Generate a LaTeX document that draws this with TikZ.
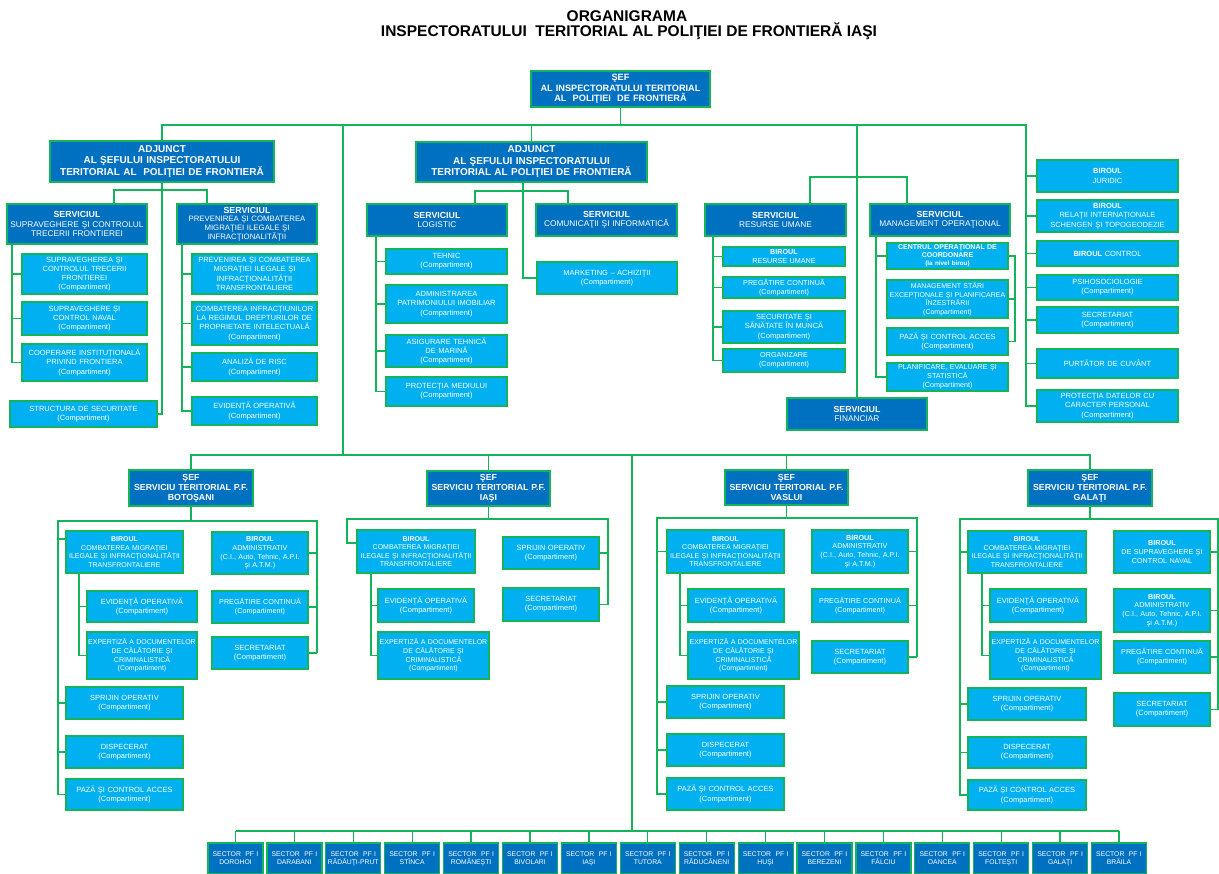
\documentclass[tikz,border=0pt]{standalone}
\usepackage{fontspec}
\setmainfont{Liberation Sans}
\definecolor{dblue}{RGB}{0,112,192}
\definecolor{lblue}{RGB}{0,176,240}
\definecolor{lgreen}{RGB}{20,180,90}
\newcommand\fs[2]{\fontsize{#1}{#2}\selectfont}
\newcommand\Serv{{\bfseries\fs{8.8}{9.6}SERVICIUL}}
\newcommand\Birou{\textbf{BIROUL}}
\newcommand\Cp{(Compartiment)}
\newcommand\CombTxt{\Birou\\COMBATEREA MIGRAŢIEI\\ILEGALE ŞI INFRACŢIONALITĂŢII\\TRANSFRONTALIERE}
\newcommand\ExpTxt{EXPERTIZĂ A DOCUMENTELOR\\DE CĂLĂTORIE ŞI\\CRIMINALISTICĂ\\(Compartiment)}
\newcommand\AdmTxt{\Birou\\ADMINISTRATIV\\(C.I., Auto, Tehnic, A.P.I.\\şi A.T.M.)}
\newcommand\mkbox[7]{%
  \pgfmathsetmacro\mkT{(#5)-(#3)-2}%
  \pgfmathsetmacro\mkH{(#6)-(#4)}%
  \pgfmathsetmacro\mkX{((#3)+(#5))/2}%
  \pgfmathsetmacro\mkY{((#4)+(#6))/2}%
  \node[#1, text width=\mkT pt, minimum height=\mkH pt] (#2) at (\mkX,\mkY) {#7};}
\tikzset{
  boxbase/.style={rectangle, draw=lgreen, line width=1.2pt, text=white, align=center, inner xsep=1pt, inner ysep=0pt},
  dbox/.style={boxbase, fill=dblue},
  lbox/.style={boxbase, fill=lblue, font=\fs{7.5}{9.2}},
  nbox/.style={lbox, font=\fs{7.2}{8.8}},
  hbox/.style={dbox, font=\bfseries\fs{8.8}{10}},
  sbox/.style={dbox, font=\fs{8.3}{9.6}},
  sect/.style={dbox, font=\fs{6.8}{8}},
  conn/.style={draw=lgreen, line width=1.3pt},
}
\begin{document}
\begin{tikzpicture}[x=1pt,y=-1pt]
\useasboundingbox (0,0) rectangle (1219,874);
\fill[white] (0,0) rectangle (1219,874);

% titles
\node[font=\bfseries\fs{15.5}{17}] (title1) at (627,16) {ORGANIGRAMA};
\node[font=\bfseries\fs{15.5}{17}] (title2) at (629,31) {INSPECTORATULUI~~TERITORIAL AL POLIŢIEI DE FRONTIERĂ IAŞI};

% top level
\mkbox{hbox, font=\bfseries\fs{9.2}{10.5}}{top}{531}{71}{710}{107}{ŞEF\\AL INSPECTORATULUI TERITORIAL\\AL~~POLIŢIEI~~DE FRONTIERĂ}
\mkbox{hbox, font=\bfseries\fs{10}{11.5}}{adj1}{50}{141}{274}{182}{ADJUNCT\\AL ŞEFULUI INSPECTORATULUI\\TERITORIAL AL~~POLIŢIEI DE FRONTIERĂ}
\mkbox{hbox, font=\bfseries\fs{10}{11.5}}{adj2}{416}{142}{647}{182}{ADJUNCT\\AL ŞEFULUI INSPECTORATULUI\\TERITORIAL AL POLIŢIEI DE FRONTIERĂ}

% adjunct 1 group
\mkbox{sbox}{sSup}{7}{204}{147}{244}{\Serv\\SUPRAVEGHERE ŞI CONTROLUL\\TRECERII FRONTIEREI}
\mkbox{sbox, font=\fs{7.8}{8.8}}{sPrev}{177}{204}{317}{244}{\Serv\\PREVENIREA ŞI COMBATEREA\\MIGRAŢIEI ILEGALE ŞI\\INFRACŢIONALITĂŢII}
\mkbox{lbox}{cSctf}{22}{254}{147}{294}{SUPRAVEGHEREA ŞI\\CONTROLUL TRECERII\\FRONTIEREI\\\Cp}
\mkbox{lbox}{cScn}{22}{302}{147}{335}{SUPRAVEGHERE ŞI\\CONTROL NAVAL\\\Cp}
\mkbox{lbox}{cCoop}{22}{344}{147}{381}{COOPERARE INSTITUŢIONALĂ\\PRIVIND FRONTIERA\\\Cp}
\mkbox{lbox}{cStruct}{10}{401}{157}{427}{STRUCTURA DE SECURITATE\\\Cp}
\mkbox{lbox}{cPcm}{192}{254}{317}{294}{PREVENIREA ŞI COMBATEREA\\MIGRAŢIEI ILEGALE ŞI\\INFRACŢIONALITĂŢII\\TRANSFRONTALIERE}
\mkbox{lbox}{cCir}{192}{302}{317}{345}{COMBATEREA INFRACŢIUNILOR\\LA REGIMUL DREPTURILOR DE\\PROPRIETATE INTELECTUALĂ\\\Cp}
\mkbox{lbox}{cRisc}{192}{353}{317}{381}{ANALIZĂ DE RISC\\\Cp}
\mkbox{lbox}{cEvid}{192}{397}{317}{425}{EVIDENŢĂ OPERATIVĂ\\\Cp}

% adjunct 2 group
\mkbox{sbox}{sLog}{367}{204}{507}{236}{\Serv\\LOGISTIC}
\mkbox{sbox}{sCom}{536}{204}{677}{236}{\Serv\\COMUNICAŢII ŞI INFORMATICĂ}
\mkbox{lbox}{cTeh}{386}{249}{507}{274}{TEHNIC\\\Cp}
\mkbox{lbox}{cAdm}{386}{285}{507}{323}{ADMINISTRAREA\\PATRIMONIULUI IMOBILIAR\\\Cp}
\mkbox{lbox}{cAsig}{386}{335}{507}{367}{ASIGURARE TEHNICĂ\\DE MARINĂ\\\Cp}
\mkbox{lbox}{cProt}{386}{377}{507}{406}{PROTECŢIA MEDIULUI\\\Cp}
\mkbox{lbox}{cMkt}{537}{262}{677}{294}{MARKETING – ACHIZIŢII\\\Cp}

% RU / MO / financiar
\mkbox{sbox}{sRu}{705}{204}{846}{236}{\Serv\\RESURSE UMANE}
\mkbox{sbox}{sMo}{870}{204}{1010}{236}{\Serv\\MANAGEMENT OPERAŢIONAL}
\mkbox{sbox}{sFin}{787}{398}{927}{430}{\Serv\\FINANCIAR}
\mkbox{nbox}{cBru}{723}{247}{845}{266}{\Birou\\RESURSE UMANE}
\mkbox{nbox}{cPc}{723}{277}{845}{298}{PREGĂTIRE CONTINUĂ\\\Cp}
\mkbox{lbox}{cSsm}{723}{311}{845}{343}{SECURITATE ŞI\\SĂNĂTATE ÎN MUNCĂ\\\Cp}
\mkbox{nbox}{cOrg}{723}{349}{845}{372}{ORGANIZARE\\\Cp}
\mkbox{lbox, font=\bfseries\fs{7}{8.2}}{cCent}{887}{243}{1008}{269}{CENTRUL OPERAŢIONAL DE\\COORDONARE\\{\fs{6.3}{8.2}(la nivel birou)}}
\mkbox{lbox, font=\fs{7}{8.6}}{cMse}{887}{280}{1008}{318}{MANAGEMENT STĂRI\\EXCEPŢIONALE ŞI PLANIFICAREA\\ÎNZESTRĂRII\\\Cp}
\mkbox{lbox}{cPaza}{887}{328}{1008}{355}{PAZĂ ŞI CONTROL ACCES\\\Cp}
\mkbox{nbox}{cPlan}{887}{363}{1008}{391}{PLANIFICARE, EVALUARE ŞI\\STATISTICĂ\\\Cp}

% right column
\mkbox{lbox}{rJur}{1037}{160}{1178}{192}{\Birou\\JURIDIC}
\mkbox{lbox}{rRel}{1037}{200}{1178}{232}{\Birou\\RELAŢII INTERNAŢIONALE\\SCHENGEN ŞI TOPOGEODEZIE}
\mkbox{lbox}{rCtrl}{1037}{241}{1178}{266}{\Birou{} CONTROL}
\mkbox{lbox}{rPsi}{1037}{275}{1178}{300}{PSIHOSOCIOLOGIE\\\Cp}
\mkbox{lbox}{rSec}{1037}{307}{1178}{333}{SECRETARIAT\\\Cp}
\mkbox{lbox}{rPurt}{1037}{349}{1178}{378}{PURTĂTOR DE CUVÂNT}
\mkbox{lbox}{rProt}{1037}{390}{1178}{422}{PROTECŢIA DATELOR CU\\CARACTER PERSONAL\\\Cp}

% territorial heads
\mkbox{hbox}{bSef}{129}{470}{253}{506}{ŞEF\\SERVICIU TERITORIAL P.F.\\BOTOŞANI}
\mkbox{hbox}{iSef}{427}{471}{550}{506}{ŞEF\\SERVICIU TERITORIAL P.F.\\IAŞI}
\mkbox{hbox}{vSef}{725}{470}{848}{505}{ŞEF\\SERVICIU TERITORIAL P.F.\\VASLUI}
\mkbox{hbox}{gSef}{1028}{470}{1152}{506}{ŞEF\\SERVICIU TERITORIAL P.F.\\GALAŢI}

% Botosani
\mkbox{lbox, font=\fs{7}{8.6}}{bBir}{66}{531}{183}{573}{\CombTxt}
\mkbox{lbox}{bEvid}{87}{591}{197}{622}{EVIDENŢĂ OPERATIVĂ\\\Cp}
\mkbox{lbox, font=\fs{7}{8.6}}{bExp}{87}{632}{197}{679}{\ExpTxt}
\mkbox{lbox}{bSpr}{66}{687}{183}{719}{SPRIJIN OPERATIV\\\Cp}
\mkbox{lbox}{bDisp}{66}{736}{183}{768}{DISPECERAT\\\Cp}
\mkbox{lbox}{bPaza}{66}{779}{183}{810}{PAZĂ ŞI CONTROL ACCES\\\Cp}
\mkbox{nbox}{bAdm}{212}{532}{308}{574}{\AdmTxt}
\mkbox{nbox}{bPc}{212}{591}{308}{623}{PREGĂTIRE CONTINUĂ\\\Cp}
\mkbox{lbox}{bSec}{212}{637}{308}{669}{SECRETARIAT\\\Cp}

% Iasi
\mkbox{lbox, font=\fs{7}{8.6}}{iBir}{357}{530}{475}{573}{\CombTxt}
\mkbox{lbox}{iEvid}{378}{589}{474}{622}{EVIDENŢĂ OPERATIVĂ\\\Cp}
\mkbox{lbox, font=\fs{7}{8.6}}{iExp}{378}{632}{489}{679}{\ExpTxt}
\mkbox{lbox}{iSpr}{503}{537}{599}{569}{SPRIJIN OPERATIV\\\Cp}
\mkbox{lbox}{iSec}{503}{588}{599}{621}{SECRETARIAT\\\Cp}

% Vaslui
\mkbox{lbox, font=\fs{7}{8.6}}{vBir}{667}{530}{784}{573}{\CombTxt}
\mkbox{lbox}{vEvid}{688}{589}{784}{622}{EVIDENŢĂ OPERATIVĂ\\\Cp}
\mkbox{lbox, font=\fs{7}{8.6}}{vExp}{688}{632}{799}{679}{\ExpTxt}
\mkbox{lbox}{vSpr}{667}{686}{784}{718}{SPRIJIN OPERATIV\\\Cp}
\mkbox{lbox}{vDisp}{667}{734}{784}{766}{DISPECERAT\\\Cp}
\mkbox{lbox}{vPaza}{667}{778}{784}{810}{PAZĂ ŞI CONTROL ACCES\\\Cp}
\mkbox{nbox}{vAdm}{812}{530}{908}{573}{\AdmTxt}
\mkbox{nbox}{vPc}{812}{589}{908}{622}{PREGĂTIRE CONTINUĂ\\\Cp}
\mkbox{lbox}{vSec}{812}{641}{908}{673}{SECRETARIAT\\\Cp}

% Galati
\mkbox{lbox, font=\fs{7}{8.6}}{gBir}{968}{531}{1086}{573}{\CombTxt}
\mkbox{lbox}{gEvid}{990}{589}{1086}{622}{EVIDENŢĂ OPERATIVĂ\\\Cp}
\mkbox{lbox, font=\fs{7}{8.6}}{gExp}{990}{632}{1101}{679}{\ExpTxt}
\mkbox{lbox}{gSpr}{968}{688}{1086}{720}{SPRIJIN OPERATIV\\\Cp}
\mkbox{lbox}{gDisp}{968}{737}{1086}{768}{DISPECERAT\\\Cp}
\mkbox{lbox}{gPaza}{968}{780}{1086}{810}{PAZĂ ŞI CONTROL ACCES\\\Cp}
\mkbox{nbox}{gSn}{1114}{531}{1210}{573}{\Birou\\DE SUPRAVEGHERE ŞI\\CONTROL NAVAL}
\mkbox{nbox}{gAdm}{1114}{589}{1210}{632}{\AdmTxt}
\mkbox{nbox}{gPc}{1114}{641}{1210}{673}{PREGĂTIRE CONTINUĂ\\\Cp}
\mkbox{lbox}{gSec}{1114}{693}{1210}{726}{SECRETARIAT\\\Cp}

% sectors
\foreach \nm [count=\i from 0] in {DOROHOI,DARABANI,RĂDĂUŢI-PRUT,STÎNCA,ROMÂNEŞTI,BIVOLARI,IAŞI,TUTORA,RĂDUCĂNENI,HUŞI,BEREZENI,FĂLCIU,OANCEA,FOLTEŞTI,GALAŢI,BRĂILA}
  {\mkbox{sect}{sec\i}{208+58.9*\i}{843}{263+58.9*\i}{874}{SECTOR~~PF I\\\nm}}

% ---------- connectors ----------
\coordinate (bus) at (0,125);
\coordinate (rcol) at (1026,125);
\coordinate (terr) at (343,455);
\draw[conn] (top.south) -- (top.south |- bus);
\draw[conn] (adj1.north) -- (adj1.north |- bus) -- (rcol) -- (rcol |- rProt.west) -- (rProt.west);
\foreach \n in {rJur,rRel,rCtrl,rPsi,rSec,rPurt} \draw[conn] (rcol |- \n.west) -- (\n.west);
\draw[conn] (adj2.north) -- (adj2.north |- bus);
\draw[conn] (terr |- bus) -- (terr);
\draw[conn] (sFin.north) -- (sFin.north |- bus);

% adjunct 1
\coordinate (ja) at (114,190);
\coordinate (jb) at (207,190);
\draw[conn] (adj1.south) -- (adj1.south |- cStruct.east) -- (cStruct.east);
\draw[conn] (ja |- sSup.north) -- (ja) -- (jb) -- (jb |- sPrev.north);
\coordinate (vsup) at (12,244);
\draw[conn] (vsup) |- (cCoop.west);
\foreach \n in {cSctf,cScn} \draw[conn] (vsup |- \n.west) -- (\n.west);
\coordinate (vprev) at (182,244);
\draw[conn] (vprev) |- (cEvid.west);
\foreach \n in {cPcm,cCir,cRisc} \draw[conn] (vprev |- \n.west) -- (\n.west);

% adjunct 2
\coordinate (jm) at (523,182);
\draw[conn] (jm) |- (cMkt.west);
\coordinate (jl) at (475,191);
\coordinate (jc) at (568,191);
\draw[conn] (jl |- sLog.north) -- (jl) -- (jc) -- (jc |- sCom.north);
\coordinate (vlog) at (376,236);
\draw[conn] (vlog) |- (cProt.west);
\foreach \n in {cTeh,cAdm,cAsig} \draw[conn] (vlog |- \n.west) -- (\n.west);

% RU / MO
\coordinate (jru) at (810,177);
\coordinate (jmo) at (907,177);
\draw[conn] (jru |- sRu.north) -- (jru) -- (jmo) -- (jmo |- sMo.north);
\coordinate (vru) at (713,236);
\draw[conn] (vru) |- (cOrg.west);
\foreach \n in {cBru,cPc,cSsm} \draw[conn] (vru |- \n.west) -- (\n.west);
\coordinate (vmo) at (876,236);
\draw[conn] (vmo) |- (cPlan.west);
\draw[conn] (vmo |- cCent.west) -- (cCent.west);
\coordinate (bk) at (1015,256);
\draw[conn] (cCent.east) -- (cCent.east -| bk) -- (bk |- cPaza.east) -- (cPaza.east);
\draw[conn] (bk |- cMse.east) -- (cMse.east);

% territorial bus
\coordinate (tbus) at (0,455);
\coordinate (sbus) at (632,831);
\draw[conn] (bSef.north) -- (bSef.north |- tbus) -- (gSef.north |- tbus) -- (gSef.north);
\draw[conn] (iSef.north) -- (iSef.north |- tbus);
\draw[conn] (vSef.north) -- (vSef.north |- tbus);
\draw[conn] (sbus |- tbus) -- (sbus);

% Botosani
\coordinate (bl) at (58,521);
\coordinate (br) at (317,521);
\coordinate (bbt) at (58,539);
\draw[conn] (bSef.south) -- (bSef.south |- bl);
\draw[conn] (br |- bSec.east) -- (br) -- (bl) -- (bl |- bPaza.west) -- (bPaza.west);
\draw[conn] (bbt) -- (bbt -| bBir.west);
\foreach \n in {bSpr,bDisp} \draw[conn] (bl |- \n.west) -- (\n.west);
\foreach \n in {bAdm,bPc,bSec} \draw[conn] (br |- \n.east) -- (\n.east);
\coordinate (bs) at (79,573);
\draw[conn] (bs) |- (bExp.west);
\draw[conn] (bs |- bEvid.west) -- (bEvid.west);

% Iasi
\coordinate (il) at (347,519);
\coordinate (ir) at (608,519);
\coordinate (ibt) at (347,543);
\draw[conn] (iSef.south) -- (iSef.south |- il);
\draw[conn] (ir |- iSec.east) -- (ir) -- (il) -- (ibt) -- (ibt -| iBir.west);
\foreach \n in {iSpr,iSec} \draw[conn] (ir |- \n.east) -- (\n.east);
\coordinate (is) at (371,573);
\draw[conn] (is) |- (iExp.west);
\draw[conn] (is |- iEvid.west) -- (iEvid.west);

% Vaslui
\coordinate (vl) at (657,518);
\coordinate (vr) at (917,518);
\draw[conn] (vSef.south) -- (vSef.south |- vl);
\draw[conn] (vr |- vSec.east) -- (vr) -- (vl) -- (vl |- vPaza.west) -- (vPaza.west);
\foreach \n in {vBir,vSpr,vDisp} \draw[conn] (vl |- \n.west) -- (\n.west);
\foreach \n in {vAdm,vPc,vSec} \draw[conn] (vr |- \n.east) -- (\n.east);
\coordinate (vs) at (680,573);
\draw[conn] (vs) |- (vExp.west);
\draw[conn] (vs |- vEvid.west) -- (vEvid.west);

% Galati
\coordinate (gl) at (960,519);
\coordinate (gr) at (1218,519);
\draw[conn] (gSef.south) -- (gSef.south |- gl);
\draw[conn] (gr |- gSec.east) -- (gr) -- (gl) -- (gl |- gPaza.west) -- (gPaza.west);
\foreach \n in {gBir,gSpr,gDisp} \draw[conn] (gl |- \n.west) -- (\n.west);
\foreach \n in {gSn,gAdm,gPc,gSec} \draw[conn] (gr |- \n.east) -- (\n.east);
\coordinate (gs) at (982,573);
\draw[conn] (gs) |- (gExp.west);
\draw[conn] (gs |- gEvid.west) -- (gEvid.west);

% sectors bus
\draw[conn] (sec0.north |- sbus) -- (sec15.north |- sbus);
\foreach \i in {0,...,15} \draw[conn] (sec\i.north) -- (sec\i.north |- sbus);
\end{tikzpicture}
\end{document}
